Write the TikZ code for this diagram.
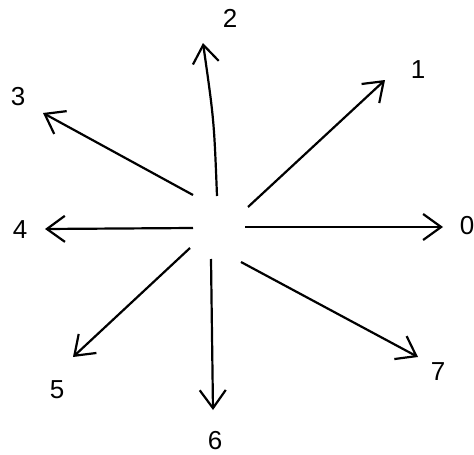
\documentclass[tikz,border=0pt]{standalone}
\usepackage{fontspec}
\setmainfont{Liberation Sans}
\usetikzlibrary{arrows.meta}
\begin{document}
\begin{tikzpicture}[x=1pt,y=-1pt,
  ray/.style={line width=2.2pt,-{Straight Barb[length=18pt,width=26pt,line width=2.2pt]}},
  lbl/.style={font=\fontsize{26}{30}\selectfont,inner sep=0pt}]
\useasboundingbox[fill=white] (0,0) rectangle (474,455);
% starts
\coordinate (s0) at (245,227);
\coordinate (s1) at (248,207);
\coordinate (s2) at (217,196);
\coordinate (s3) at (193,195);
\coordinate (s4) at (193,228);
\coordinate (s5) at (190,248);
\coordinate (s6) at (211,259);
\coordinate (s7) at (241,262);
% ends
\coordinate (e0) at (443,227);
\coordinate (e1) at (385,80);
\coordinate (e2) at (203,43);
\coordinate (e3) at (43,113);
\coordinate (e4) at (45,229);
\coordinate (e5) at (73,357);
\coordinate (e6) at (213,410);
\coordinate (e7) at (418,357);
\draw[ray] (s0) -- (e0);
\draw[ray] (s1) -- (e1);
\draw[ray] (s2) .. controls (214,120) .. (e2);
\draw[ray] (s3) -- (e3);
\draw[ray] (s4) -- (e4);
\draw[ray] (s5) -- (e5);
\draw[ray] (s6) -- (e6);
\draw[ray] (s7) -- (e7);
% labels
\node[lbl] (l0) at (467,226) {0};
\node[lbl] (l1) at (418,70) {1};
\node[lbl] (l2) at (230,18) {2};
\node[lbl] (l3) at (18,97) {3};
\node[lbl] (l4) at (20,230) {4};
\node[lbl] (l5) at (57,390) {5};
\node[lbl] (l6) at (215,441) {6};
\node[lbl] (l7) at (438,372) {7};
\end{tikzpicture}
\end{document}
